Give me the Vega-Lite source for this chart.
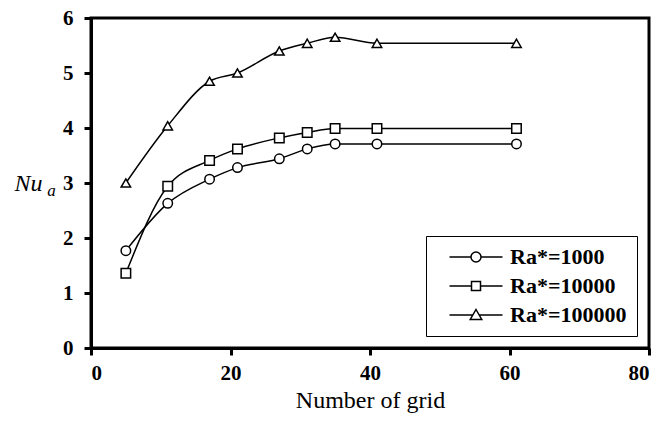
{
  "$schema": "https://vega.github.io/schema/vega-lite/v6.json",
  "width": 558,
  "height": 330,
  "autosize": {"type": "none"},
  "padding": {"left": 91, "top": 18, "right": 22, "bottom": 75},
  "background": "white",
  "title": {"text": "a", "orient": "left", "anchor": "middle", "angle": 0, "font": "Liberation Serif", "fontStyle": "italic", "fontWeight": "normal", "fontSize": 17, "color": "black", "offset": -46, "dy": 0},
  "config": {
    "view": {"stroke": "black", "strokeWidth": 3},
    "axis": {
      "domainColor": "black", "domainWidth": 3,
      "tickColor": "black", "tickWidth": 3, "tickSize": 7,
      "grid": false,
      "labelFont": "Liberation Serif", "labelFontWeight": "bold", "labelFontSize": 21, "labelColor": "black",
      "titleFont": "Liberation Serif", "titleFontWeight": "normal", "titleColor": "black"
    }
  },
  "data": {
    "values": [
      {"grid": 5, "nu": 1.77, "series": "Ra*=1000"},
      {"grid": 11, "nu": 2.63, "series": "Ra*=1000"},
      {"grid": 17, "nu": 3.07, "series": "Ra*=1000"},
      {"grid": 21, "nu": 3.28, "series": "Ra*=1000"},
      {"grid": 27, "nu": 3.44, "series": "Ra*=1000"},
      {"grid": 31, "nu": 3.62, "series": "Ra*=1000"},
      {"grid": 35, "nu": 3.71, "series": "Ra*=1000"},
      {"grid": 41, "nu": 3.71, "series": "Ra*=1000"},
      {"grid": 61, "nu": 3.71, "series": "Ra*=1000"},
      {"grid": 5, "nu": 1.36, "series": "Ra*=10000"},
      {"grid": 11, "nu": 2.94, "series": "Ra*=10000"},
      {"grid": 17, "nu": 3.41, "series": "Ra*=10000"},
      {"grid": 21, "nu": 3.62, "series": "Ra*=10000"},
      {"grid": 27, "nu": 3.82, "series": "Ra*=10000"},
      {"grid": 31, "nu": 3.92, "series": "Ra*=10000"},
      {"grid": 35, "nu": 3.99, "series": "Ra*=10000"},
      {"grid": 41, "nu": 3.99, "series": "Ra*=10000"},
      {"grid": 61, "nu": 3.99, "series": "Ra*=10000"},
      {"grid": 5, "nu": 3.0, "series": "Ra*=100000"},
      {"grid": 11, "nu": 4.04, "series": "Ra*=100000"},
      {"grid": 17, "nu": 4.85, "series": "Ra*=100000"},
      {"grid": 21, "nu": 5.0, "series": "Ra*=100000"},
      {"grid": 27, "nu": 5.4, "series": "Ra*=100000"},
      {"grid": 31, "nu": 5.54, "series": "Ra*=100000"},
      {"grid": 35, "nu": 5.65, "series": "Ra*=100000"},
      {"grid": 41, "nu": 5.54, "series": "Ra*=100000"},
      {"grid": 61, "nu": 5.54, "series": "Ra*=100000"}
    ]
  },
  "encoding": {
    "x": {
      "field": "grid", "type": "quantitative",
      "scale": {"domain": [0, 80], "nice": false, "zero": false},
      "axis": {"values": [0, 20, 40, 60, 80], "title": "Number of grid", "titleFontSize": 24, "titlePadding": 5, "labelPadding": 7}
    },
    "y": {
      "field": "nu", "type": "quantitative",
      "scale": {"domain": [0, 6], "nice": false},
      "axis": {"values": [0, 1, 2, 3, 4, 5, 6], "title": "Nu", "titleFontSize": 24, "titleFontStyle": "italic", "titleAngle": 0, "titleAlign": "left", "titleBaseline": "middle", "titleX": -77, "titleY": 165, "labelPadding": 11}
    }
  },
  "layer": [
    {
      "mark": {"type": "line", "interpolate": "monotone", "color": "black", "strokeWidth": 1.5},
      "encoding": {"detail": {"field": "series"}}
    },
    {
      "mark": {"type": "point", "filled": true, "fill": "white", "stroke": "black", "strokeWidth": 1.5, "size": 90, "opacity": 1},
      "encoding": {
        "shape": {
          "field": "series", "type": "nominal",
          "scale": {"domain": ["Ra*=1000", "Ra*=10000", "Ra*=100000"], "range": ["circle", "square", "triangle-up"]},
          "legend": null
        }
      }
    },
    {
      "transform": [{"filter": {"field": "grid", "lt": 0}}],
      "mark": {"type": "point", "color": "black", "strokeWidth": 1.5, "size": 100, "opacity": 1},
      "encoding": {
        "shape": {
          "field": "series", "type": "nominal",
          "scale": {
            "domain": ["Ra*=1000", "Ra*=10000", "Ra*=100000"],
            "range": [
              "M-5.3,0H-1M1,0H5.3M1,0A1,1 0 1,1 -1,0A1,1 0 1,1 1,0Z",
              "M-5.3,0H-0.9M0.9,0H5.3M-0.9,-0.9H0.9V0.9H-0.9Z",
              "M-5.3,0H-0.6M0.6,0H5.3M0,-1.1L1.15,0.9H-1.15Z"
            ]
          },
          "legend": {
            "title": null,
            "orient": "bottom-right",
            "offset": 12,
            "strokeColor": "black",
            "fillColor": "white",
            "padding": 10,
            "symbolOffset": 29,
            "labelOffset": 23,
            "rowPadding": 7,
            "labelFont": "Liberation Serif",
            "labelFontWeight": "bold",
            "labelFontSize": 22,
            "labelColor": "black",
            "labelExpr": "datum.label + '\u00a0\u00a0'",
            "symbolSize": 100,
            "symbolStrokeWidth": 1.5
          }
        }
      }
    }
  ],
  "resolve": {"scale": {"shape": "independent"}, "legend": {"shape": "independent"}}
}
